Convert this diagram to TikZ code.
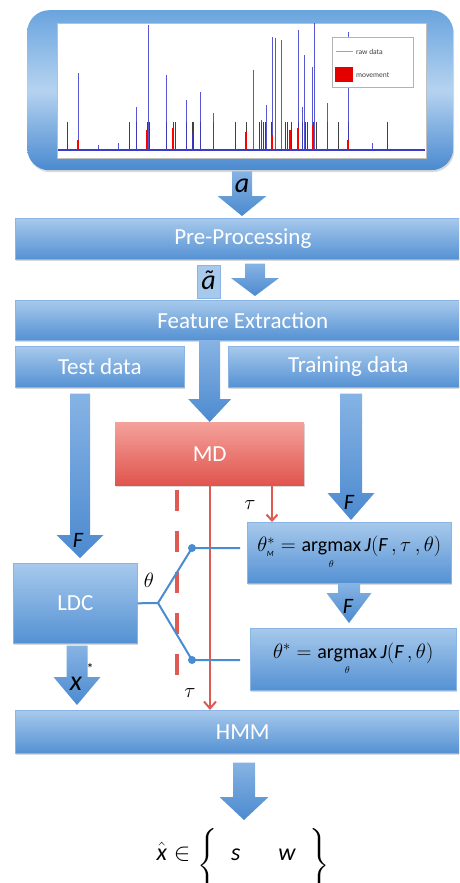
\documentclass[tikz,border=0pt]{standalone}
\usepackage{amsmath}
\usepackage{fontspec}
\setmainfont{Carlito}
\usetikzlibrary{calc,shadows,arrows.meta}
\definecolor{bltop}{HTML}{A7C9EC}
\definecolor{blbot}{HTML}{5491D3}
\definecolor{blline}{HTML}{8AB4E3}
\definecolor{artop}{HTML}{86B3E4}
\definecolor{arbot}{HTML}{4C8ACF}
\definecolor{mdtop}{HTML}{F4A19B}
\definecolor{mdbot}{HTML}{E0554E}
\definecolor{redln}{HTML}{DE5A52}
\definecolor{fork}{HTML}{4A8CD0}
\definecolor{rawblue}{HTML}{3A3ACB}
\definecolor{rtop}{HTML}{6AA4DE}
\definecolor{rmid}{HTML}{B5D3F0}
\definecolor{rbot}{HTML}{4A8AD0}
\newcommand\myit[1]{\text{\itshape #1}}
\newcommand\barw[5]{\shade[arrowshade] let \p1=#1, \p2=#2 in
  (\x1-#3pt,\y1) -- (\x1+#3pt,\y1) -- (\x1+#3pt,\y2+#5pt) -- (\x1+#4pt,\y2+#5pt)
  -- (\x1,\y2) -- (\x1-#4pt,\y2+#5pt) -- (\x1-#3pt,\y2+#5pt) -- cycle;}
\tikzset{
  bluebar/.style={draw=blline, line width=0.6pt, top color=bltop, bottom color=blbot,
    drop shadow={shadow xshift=1pt, shadow yshift=-2pt, opacity=0.3},
    text=white, font=\fontsize{23}{25}\selectfont, inner sep=0pt, anchor=north west},
  mdbox/.style={draw=none, top color=mdtop, bottom color=mdbot,
    drop shadow={shadow xshift=1pt, shadow yshift=-2pt, opacity=0.3},
    text=white, font=\fontsize{23}{25}\selectfont, inner sep=0pt, anchor=north west},
  eqbox/.style={bluebar, text=black, font=\fontsize{20}{22}\selectfont},
  arrowshade/.style={top color=artop, bottom color=arbot},
  lbl/.style={text=black, font=\fontsize{22}{24}\selectfont\itshape, inner sep=0pt},
  biglbl/.style={text=black, font=\fontsize{28}{30}\selectfont\itshape, inner sep=0pt},
  smalllbl/.style={text=black, font=\fontsize{22}{24}\selectfont, inner sep=0pt},
  redsolid/.style={draw=redln, line width=2pt},
  reddash/.style={draw=redln, line width=4pt, dash pattern=on 21pt off 20pt},
  forkln/.style={draw=fork, line width=2pt},
  blk/.style={draw=black!75, line width=0.8pt},
  spk/.style={draw=rawblue, line width=0.9pt, opacity=0.85},
  redspk/.style={draw=red, line width=1.6pt},
}
\begin{document}
\begin{tikzpicture}[x=1pt,y=-1pt]
\useasboundingbox (0,0) rectangle (459,883);
\clip (0,0) rectangle (459,883);
% top box with plot
\node[draw=none, rounded corners=22pt, top color=rtop, bottom color=rbot, middle color=rmid,
  drop shadow={shadow xshift=1pt, shadow yshift=-2pt, opacity=0.3},
  minimum width=426pt, minimum height=160pt, inner sep=0pt, anchor=north west] (raw) at (27,10) {};
\node[draw=black!25, line width=1pt, fill=white, minimum width=369pt, minimum height=135pt, inner sep=0pt, anchor=north west] (plot) at (57,23) {};
% black markers
\foreach \xx in {67,129,136,147,149,166,173,175,186,192,193,200,213,235,246,259,261,263,265,271,285,287,291,298,302,305,307,313,316,327,338,348,387}
  \draw[blk] (\xx,150) -- (\xx,122);
% blue raw data spikes
\foreach \xx/\yy in {78/73,98/145,118/143,136/107,148/25,166/75,173/133,186/100,192/133,200/92,213/113,246/133,253/70,261/120,266/105,272/37,275/38,281/40,298/30,302/107,304/55,312/67,314/23,327/103,348/32,372/143}
  \draw[spk] (\xx,150) -- (\xx,\yy);
% red movement bits
\foreach \xx/\yy in {78/140,147/130,173/128,246/132,272/135,290/130,298/128,313/125,348/140}
  \draw[redspk] (\xx,150) -- (\xx,\yy);
\draw[draw=rawblue, line width=1.2pt] (58,150) -- (425,150);
% legend
\node[draw=black!30, line width=0.6pt, fill=white, minimum width=81pt, minimum height=50pt, inner sep=0pt, anchor=north west] (legend) at (332,37) {};
\coordinate (lg1) at (336,52);
\coordinate (lg2) at (353,52);
\draw[draw=rawblue!50, line width=1pt] (lg1) -- (lg2);
\node[anchor=west, font=\fontsize{7.5}{8}\selectfont, text=black!75, inner sep=0pt] (lgraw) at (356,52) {raw data};
\node[fill=red!90!black, minimum width=18pt, minimum height=15pt, inner sep=0pt, anchor=north west] (lgsq) at (335,67) {};
\node[anchor=west, font=\fontsize{7.5}{8}\selectfont, text=black!75, inner sep=0pt] (lgmov) at (356,75) {movement};
% bars and boxes
\node[bluebar, minimum width=455pt, minimum height=41pt] (pre) at (15,218) {Pre-Processing};
\node[draw=blline, fill=bltop, minimum width=23pt, minimum height=33pt, inner sep=0pt, anchor=north west] (atil) at (197,265) {};
\node[biglbl] (atiltxt) at (208.5,280) {ã};
\node[bluebar, minimum width=455pt, minimum height=40pt] (fe) at (15,300) {Feature Extraction};
\node[bluebar, minimum width=169pt, minimum height=41pt] (test) at (15,346) {Test data};
\node[bluebar, minimum width=240pt, minimum height=41pt] (train) at (228,346) {Training data};
\node[mdbox, minimum width=189pt, minimum height=63pt] (md) at (115,422) {MD};
\node[bluebar, minimum width=124pt, minimum height=80pt] (ldc) at (13,563) {LDC};
\node[eqbox, minimum width=204pt, minimum height=61pt] (thM) at (247,522)
  {$\theta^{*}_{\myit{\footnotesize M}} = \mathop{\text{argmax}}\limits_{\scriptscriptstyle\theta} \myit{J}(\myit{F}\,,\tau\,,\theta)$};
\node[eqbox, minimum width=206pt, minimum height=62pt] (th) at (250,628)
  {$\theta^{*} = \mathop{\text{argmax}}\limits_{\scriptscriptstyle\theta} \myit{J}(\myit{F}\,,\theta)$};
\node[bluebar, minimum width=455pt, minimum height=43pt] (hmm) at (15,710) {HMM};
% x positions for block arrows
\coordinate (xa1) at (242,0);
\coordinate (xa2) at (255,0);
\coordinate (xtest) at (80,0);
\coordinate (xtrain) at (351,0);
\coordinate (xfb) at (349,0);
\coordinate (xx) at (77,0);
\coordinate (xout) at (244,0);
\coordinate (outtip) at (244,820);
% block arrows
\barw{([yshift=-1pt]raw.south -| xa1)}{([yshift=2pt]pre.north -| xa1)}{10}{24.5}{20}
\barw{([yshift=-4pt]pre.south -| xa2)}{([yshift=4pt]fe.north -| xa2)}{10}{24}{18}
\barw{(fe.south -| md.north)}{(md.north)}{10.5}{21.5}{23}
\barw{([yshift=-6pt]test.south -| xtest)}{([yshift=5pt]ldc.north -| xtest)}{10}{23.5}{23}
\barw{([yshift=-6pt]train.south -| xtrain)}{([yshift=2pt]thM.north -| xtrain)}{11}{23.5}{27}
\barw{(thM.south -| xfb)}{([yshift=5pt]th.north -| xfb)}{11}{22.5}{30}
\barw{([yshift=-2pt]ldc.south -| xx)}{([yshift=5pt]hmm.north -| xx)}{10.5}{23.5}{28}
\barw{([yshift=-9pt]hmm.south -| xout)}{(outtip)}{11}{24.5}{23}
% labels on arrows
\node[biglbl] (alab) at (242,186) {a};
\node[lbl] (f1) at (78,540) {F};
\node[lbl] (f2) at (349,502) {F};
\node[lbl] (f3) at (348,606) {F};
\node[biglbl] (xlab) at (76,684) {x};
\node[font=\fontsize{14}{14}\selectfont, inner sep=0pt] (xstar) at (90,669) {*};
% red lines
\coordinate (ds1) at (177,490);
\coordinate (ds2) at (177,682);
\draw[reddash] (ds1) -- (ds2);
\draw[redsolid, -{Straight Barb[length=7pt, width=12pt, line width=2pt]}] (md.south -| 210,0) -- (hmm.north -| 210,0);
\draw[redsolid, -{Straight Barb[length=6pt, width=11pt, line width=2pt]}] (md.south -| 272,0) -- (thM.north -| 272,0);
\node[smalllbl] (tau1) at (250,505) {$\tau$};
\node[smalllbl] (tau2) at (190,693) {$\tau$};
% fork lines
\coordinate (fk) at (158,603);
\coordinate (d1) at (192,548);
\coordinate (d2) at (192,660);
\coordinate (e1) at (240,548);
\coordinate (e2) at (240,660);
\draw[forkln] (ldc.east) -- (fk) -- (d1) -- (e1);
\draw[forkln] (fk) -- (d2) -- (e2);
\fill[fork] (d1) circle (4pt);
\fill[fork] (d2) circle (4pt);
\node[smalllbl] (thlab) at (149,580) {$\theta$};
% output formula
\node[text=black, font=\fontsize{24}{26}\selectfont, inner sep=0pt, anchor=base] (out) at (243,860)
  {$\hat{\myit{x}}\in\raisebox{-12pt}{$\Bigg\{$}\;\;\myit{s}\;\;\quad\myit{w}\;\;\raisebox{-12pt}{$\Bigg\}$}$};
\end{tikzpicture}
\end{document}
